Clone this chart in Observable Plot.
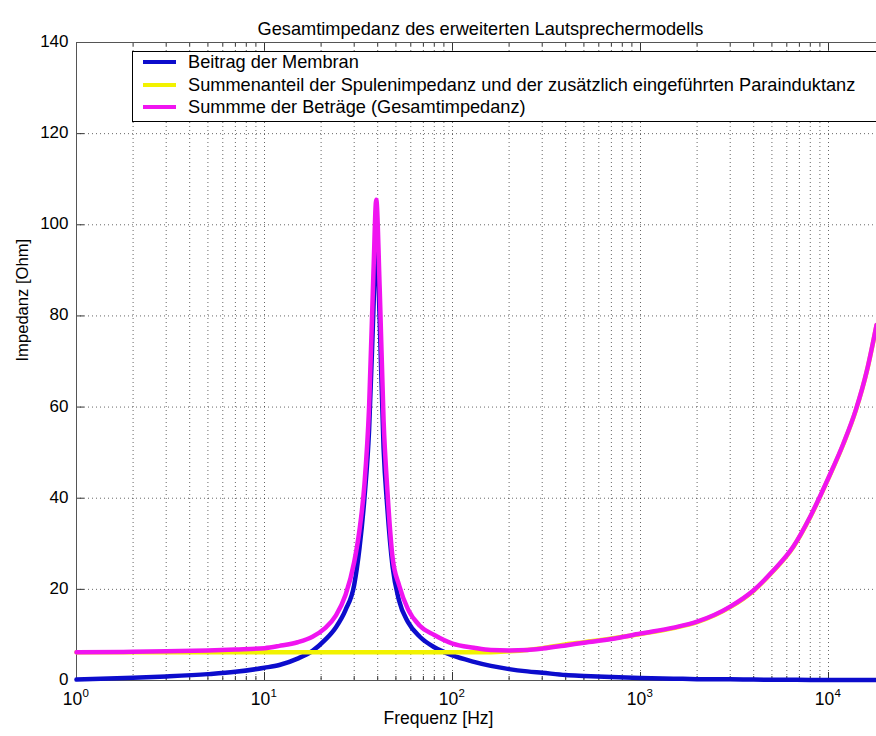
<!DOCTYPE html>
<html>
<head>
<meta charset="utf-8">
<script src="https://cdn.jsdelivr.net/npm/d3@7"></script>
<script src="https://cdn.jsdelivr.net/npm/@observablehq/plot@0.6"></script>
<style>
  body { margin: 0; background: #fff; overflow: hidden; }
  #wrap { position: relative; width: 876px; height: 736px; overflow: hidden; font-family: "Liberation Sans", Arial, sans-serif; }
  #legend { position: absolute; left: 132px; top: 51px; width: 800px; height: 69px; border: 1px solid #000; background: #fff; }
  .row { position: absolute; left: 0; height: 20px; display: flex; align-items: center; font-size: 18.2px; white-space: nowrap; color: #000; }
  .sw { width: 33px; height: 4px; margin-left: 10px; margin-right: 12px; flex: none; }
</style>
</head>
<body>
<div id="wrap"></div>
<script>
// ---- data ----
const freq = [1, 2, 3, 5, 7, 10, 12, 15, 18, 21, 24, 27, 30, 32, 34, 36, 38, 39.3, 41, 43,
  45, 48, 52, 58, 67, 80, 100, 130, 160, 200, 250, 300, 400, 500, 700,
  1000, 1500, 2000, 3000, 4000, 5000, 6500, 8000, 10000, 12000, 14000, 16000, 18000];

const membran = [0.2, 0.6, 0.9, 1.4, 1.9, 2.8, 3.4, 4.8, 6.5, 8.9, 11.7, 15.5, 21, 29, 40, 55, 82, 99, 79, 51,
  38, 25, 17.5, 12.8, 9.6, 7.3, 5.5, 4.1, 3.2, 2.5, 2.0, 1.7, 1.2, 1.0, 0.75,
  0.55, 0.4, 0.3, 0.25, 0.2, 0.18, 0.15, 0.13, 0.12, 0.1, 0.1, 0.1, 0.1];

const spule = [6.2, 6.2, 6.2, 6.2, 6.2, 6.2, 6.2, 6.2, 6.2, 6.2, 6.2, 6.2, 6.2, 6.2, 6.2, 6.2, 6.2, 6.2, 6.2, 6.2,
  6.2, 6.2, 6.2, 6.2, 6.2, 6.2, 6.2, 6.2, 6.2, 6.4, 6.7, 7.1, 7.9, 8.4, 9.2,
  10.2, 11.5, 12.8, 16.1, 19.7, 23.7, 29.3, 35.9, 44.4, 51.9, 59.4, 67.9, 77.9];

const gesamt = [6.2, 6.3, 6.4, 6.6, 6.8, 7.1, 7.6, 8.4, 9.6, 11.5, 14.3, 18.8, 26, 33, 43, 60, 90, 105.5, 86, 57,
  42, 27, 20.9, 15.6, 12, 10, 8.1, 7.2, 6.7, 6.6, 6.7, 7.0, 7.7, 8.3, 9.1,
  10.3, 11.6, 12.9, 16.2, 19.8, 23.8, 29.4, 36, 44.5, 52, 59.5, 68, 78];

const xMajorTicks = [1, 10, 100, 1000, 10000];
const xTickExponents = ["0", "1", "2", "3", "4"];
const yTicks = [0, 20, 40, 60, 80, 100, 120, 140];

const seriesNames = [
  "Beitrag der Membran",
  "Summenanteil der Spulenimpedanz und der zusätzlich eingeführten Parainduktanz",
  "Summme der Beträge (Gesamtimpedanz)"
];
const seriesColors = ["#0c0ccc", "#f2f200", "#f014f0"];

const title = "Gesamtimpedanz des erweiterten Lautsprechermodells";
const xLabel = "Frequenz [Hz]";
const yLabel = "Impedanz [Ohm]";

// ---- layout ----
const W = 876, H = 736, mL = 76, mR = 0, mT = 42, mB = 56;
const fw = W - mL - mR, fh = H - mT - mB;
const xMax = 18000;

const minorX = xMajorTicks.flatMap(d => [2, 3, 4, 5, 6, 7, 8, 9].map(k => k * d)).filter(v => v <= xMax);
const gridX = [...xMajorTicks.slice(1), ...minorX];
const gridY = yTicks.filter(v => v > 0 && v < 140);

const gridStyle = { stroke: "#000", strokeDasharray: "1,3", strokeOpacity: 0.6, strokeWidth: 1 };
const tickStyle = { stroke: "#333", strokeWidth: 1 };

const chart = Plot.plot({
  width: W, height: H,
  marginLeft: mL, marginRight: mR, marginTop: mT, marginBottom: mB,
  x: { type: "log", domain: [1, xMax], axis: null },
  y: { domain: [0, 140], axis: null },
  style: { fontFamily: '"Liberation Sans", Arial, sans-serif', fontSize: "17px", background: "#fff", color: "#000", overflow: "visible" },
  marks: [
    Plot.ruleX(gridX, { x: d => d, ...gridStyle }),
    Plot.ruleY(gridY, { y: d => d, ...gridStyle }),
    Plot.tickX(xMajorTicks, { x: d => d, insetTop: fh - 8, ...tickStyle }),
    Plot.tickX(minorX, { x: d => d, insetTop: fh - 4, ...tickStyle }),
    Plot.tickX(xMajorTicks, { x: d => d, insetBottom: fh - 8, ...tickStyle }),
    Plot.tickX(minorX, { x: d => d, insetBottom: fh - 4, ...tickStyle }),
    Plot.tickY(yTicks, { y: d => d, insetRight: fw - 8, ...tickStyle }),
    Plot.ruleX([1], { x: d => d, stroke: "#555" }),
    Plot.ruleY([0, 140], { y: d => d, stroke: "#555" }),
    Plot.line(freq, { x: freq, y: membran, stroke: seriesColors[0], strokeWidth: 4.5, curve: "monotone-x" }),
    Plot.line(freq, { x: freq, y: spule, stroke: seriesColors[1], strokeWidth: 4.5, curve: "monotone-x" }),
    Plot.line(freq, { x: freq, y: gesamt, stroke: seriesColors[2], strokeWidth: 4.5, curve: "monotone-x" }),
    Plot.text(yTicks, { y: d => d, frameAnchor: "left", dx: -8, dy: -1, textAnchor: "end", text: d => String(d), fontSize: 17 }),
    Plot.text(xMajorTicks, { x: d => d, frameAnchor: "bottom", dy: 24, dx: -4, text: () => "10", fontSize: 17.5 }),
    Plot.text(xMajorTicks, { x: d => d, frameAnchor: "bottom", dy: 16, dx: 6, textAnchor: "start", text: (d, i) => xTickExponents[i], fontSize: 11.5 }),
    Plot.text([title], { frameAnchor: "top", dy: -20, dx: 4, text: d => d, fontSize: 18.2 }),
    Plot.text([xLabel], { frameAnchor: "bottom", dy: 43, dx: -38, text: d => d, fontSize: 17.5 }),
    Plot.text([yLabel], { frameAnchor: "left", dx: -54, rotate: -90, text: d => d, fontSize: 16.6 })
  ]
});

const wrap = document.getElementById("wrap");
wrap.appendChild(chart);

// legend box (inside the axes, top-left)
const legend = document.createElement("div");
legend.id = "legend";
const rowTops = [0, 23, 45];
seriesNames.forEach((name, i) => {
  const row = document.createElement("div");
  row.className = "row";
  row.style.top = rowTops[i] + "px";
  const sw = document.createElement("div");
  sw.className = "sw";
  sw.style.background = seriesColors[i];
  const label = document.createElement("span");
  label.textContent = name;
  row.appendChild(sw);
  row.appendChild(label);
  legend.appendChild(row);
});
wrap.appendChild(legend);
</script>
</body>
</html>
